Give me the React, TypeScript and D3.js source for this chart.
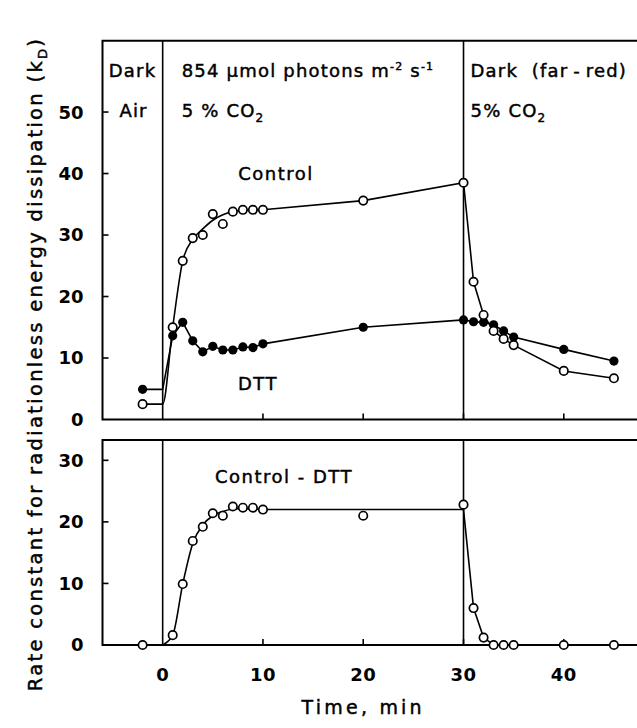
import React from "react";
import * as d3 from "d3";

// ---- data ----
const controlTime = [-2, 1, 2, 3, 4, 5, 6, 7, 8, 9, 10, 20, 30, 31, 32, 33, 34, 35, 40, 45];
const controlVals = [2.5, 15.0, 25.8, 29.5, 30.0, 33.4, 31.8, 33.8, 34.1, 34.1, 34.1, 35.6, 38.5, 22.4, 17.0, 14.4, 13.1, 12.1, 7.9, 6.7];

// smooth fitted rise (0-10 min), then straight segments
const controlRiseTime = [-2, 0, 1, 2, 3, 4, 5, 6, 7, 8, 9, 10];
const controlRiseVals = [2.5, 2.5, 15.0, 25.8, 29.3, 31.0, 32.4, 33.3, 33.8, 34.0, 34.1, 34.1];
const controlTailTime = [10, 20, 30, 31, 32, 33, 34, 35, 40, 45];
const controlTailVals = [34.1, 35.6, 38.5, 22.4, 17.0, 14.4, 13.1, 12.1, 7.9, 6.7];

const dttTime = [-2, 1, 2, 3, 4, 5, 6, 7, 8, 9, 10, 20, 30, 31, 32, 33, 34, 35, 40, 45];
const dttVals = [4.9, 13.6, 15.8, 12.8, 11.0, 11.9, 11.3, 11.3, 11.8, 11.7, 12.3, 15.0, 16.2, 15.9, 15.8, 15.4, 14.4, 13.4, 11.4, 9.5];
const dttLineTime = [-2, 0, 1, 2, 3, 4, 5, 6, 7, 8, 9, 10, 20, 30, 31, 32, 33, 34, 35, 40, 45];
const dttLineVals = [4.9, 4.9, 13.6, 15.8, 12.8, 11.0, 11.9, 11.3, 11.3, 11.8, 11.7, 12.3, 15.0, 16.2, 15.9, 15.8, 15.4, 14.4, 13.4, 11.4, 9.5];

const diffTime = [-2, 1, 2, 3, 4, 5, 6, 7, 8, 9, 10, 20, 30, 31, 32, 33, 34, 35, 40, 45];
const diffVals = [0, 1.6, 9.9, 16.9, 19.2, 21.4, 21.0, 22.5, 22.3, 22.3, 22.0, 21.0, 22.8, 6.0, 1.2, 0, 0, 0, 0, 0];
const diffRiseTime = [0, 1, 2, 3, 4, 5, 6, 7, 8, 9, 10];
const diffRiseVals = [0, 1.6, 9.9, 16.5, 19.5, 21.0, 21.7, 22.1, 22.2, 22.1, 22.0];
const diffTailTime = [10, 20, 30, 31, 32, 33, 48];
const diffTailVals = [22.0, 22.0, 22.0, 6.0, 1.2, 0, 0];

const xTickVals = [10, 20, 30, 40];
const xTickLabels = [0, 10, 20, 30, 40];
const topYTicks = [10, 20, 30, 40, 50];
const topYLabels = [0, 10, 20, 30, 40, 50];
const botYTicks = [10, 20, 30];
const botYLabels = [0, 10, 20, 30];
const phaseLines = [0, 30];

const W = 637;
const H = 728;
const FONT = "'DejaVu Sans', sans-serif";

export default function App() {
  const x = d3.scaleLinear().domain([-6, 47.5]).range([102.5, 639]);
  const yT = d3.scaleLinear().domain([0, 61.6]).range([419.5, 40.7]);
  const yB = d3.scaleLinear().domain([0, 33.3]).range([645, 440]);

  const pts = (ts: number[], vs: number[]) => ts.map((t, i) => [t, vs[i]] as [number, number]);

  const lineT = (curve: any) =>
    d3.line<[number, number]>().x((d) => x(d[0])).y((d) => yT(d[1])).curve(curve);
  const lineB = (curve: any) =>
    d3.line<[number, number]>().x((d) => x(d[0])).y((d) => yB(d[1])).curve(curve);

  const x0 = x.range()[0];
  const x1 = x.range()[1];
  const tick = 6;
  const lw = 1.6;
  const frameW = 2;
  const fs = 18;
  const ls = 1.2;
  const ts = { stroke: "#000", strokeWidth: 0.45 };

  return (
    <svg
      width={W}
      height={H}
      style={{ position: "absolute", left: 0, top: 0, background: "#fff" }}
      fontFamily={FONT}
    >
      <rect x={0} y={0} width={W} height={H} fill="#fff" />

      {/* ---- top panel frame ---- */}
      <path
        d={`M${x1},${yT.range()[1]} H${x0} V${yT.range()[0]} H${x1}`}
        fill="none"
        stroke="#000"
        strokeWidth={frameW}
      />
      {/* ---- bottom panel frame ---- */}
      <path
        d={`M${x1},${yB.range()[1]} H${x0} V${yB.range()[0]} H${x1}`}
        fill="none"
        stroke="#000"
        strokeWidth={frameW}
      />

      {/* phase lines */}
      {phaseLines.map((t) => (
        <g key={t}>
          <line x1={x(t)} x2={x(t)} y1={yT.range()[1]} y2={yT.range()[0]} stroke="#000" strokeWidth={lw} />
          <line x1={x(t)} x2={x(t)} y1={yB.range()[1]} y2={yB.range()[0]} stroke="#000" strokeWidth={lw} />
        </g>
      ))}

      {/* y ticks */}
      {topYTicks.map((v) => (
        <line key={"tt" + v} x1={x0} x2={x0 + tick} y1={yT(v)} y2={yT(v)} stroke="#000" strokeWidth={1.6} />
      ))}
      {botYTicks.map((v) => (
        <line key={"bt" + v} x1={x0} x2={x0 + tick} y1={yB(v)} y2={yB(v)} stroke="#000" strokeWidth={1.6} />
      ))}
      {/* x ticks */}
      {xTickVals.map((t) => (
        <g key={"xt" + t}>
          <line x1={x(t)} x2={x(t)} y1={yT(0)} y2={yT(0) - tick} stroke="#000" strokeWidth={1.6} />
          <line x1={x(t)} x2={x(t)} y1={yB(0)} y2={yB(0) - tick} stroke="#000" strokeWidth={1.6} />
        </g>
      ))}

      {/* y tick labels */}
      {topYLabels.map((v) => (
        <text key={"tl" + v} x={x0 - 19} y={yT(v)} dy="0.36em" textAnchor="end" fontSize={fs} fontWeight="bold">
          {v}
        </text>
      ))}
      {botYLabels.map((v) => (
        <text key={"bl" + v} x={x0 - 19} y={yB(v)} dy="0.36em" textAnchor="end" fontSize={fs} fontWeight="bold">
          {v}
        </text>
      ))}
      {/* x tick labels */}
      {xTickLabels.map((t) => (
        <text key={"xl" + t} x={x(t)} y={yB(0) + 36} textAnchor="middle" fontSize={fs} fontWeight="bold" letterSpacing={0.5}>
          {t}
        </text>
      ))}

      {/* axis titles */}
      <text x={x(20)} y={714} textAnchor="middle" fontSize={19} letterSpacing={3.2} {...ts}>
        Time, min
      </text>
      <text
        transform={`translate(42, 364) rotate(-90)`}
        textAnchor="middle"
        fontSize={19.5}
        letterSpacing={2.3}
        {...ts}
      >
        Rate constant for radiationless energy dissipation (k
        <tspan fontSize={13} dy={5}>D</tspan>
        <tspan dy={-5}>)</tspan>
      </text>

      {/* header text */}
      <g fontSize={fs} letterSpacing={ls} {...ts}>
        <text x={(x0 + x(0)) / 2} y={77} textAnchor="middle">Dark</text>
        <text x={(x0 + x(0)) / 2 + 1} y={117} textAnchor="middle">Air</text>
        <text x={x(0) + 19} y={77}>
          854 µmol photons m<tspan fontSize={11} dy={-7}>-2</tspan>
          <tspan dy={7}> s</tspan>
          <tspan fontSize={11} dy={-7}>-1</tspan>
        </text>
        <text x={x(0) + 19} y={117}>
          5 % CO<tspan fontSize={12} dy={5}>2</tspan>
        </text>
        <text x={x(30) + 7} y={77}>{"Dark\u00A0\u00A0(far\u2009-\u2009red)"}</text>
        <text x={x(30) + 7} y={117}>
          5% CO<tspan fontSize={12} dy={5}>2</tspan>
        </text>
      </g>

      {/* series labels */}
      <g fontSize={fs} letterSpacing={1.5} {...ts}>
        <text x={276} y={180} textAnchor="middle">Control</text>
        <text x={258} y={390} textAnchor="middle">DTT</text>
        <text x={284} y={483} textAnchor="middle">Control - DTT</text>
      </g>

      {/* ---- top panel data ---- */}
      <path d={lineT(d3.curveMonotoneX)(pts(controlRiseTime, controlRiseVals)) || ""} fill="none" stroke="#000" strokeWidth={lw} />
      <path d={lineT(d3.curveLinear)(pts(controlTailTime, controlTailVals)) || ""} fill="none" stroke="#000" strokeWidth={lw} />
      <path d={lineT(d3.curveLinear)(pts(dttLineTime, dttLineVals)) || ""} fill="none" stroke="#000" strokeWidth={lw} />
      {dttTime.map((t, i) => (
        <circle key={"d" + i} cx={x(t)} cy={yT(dttVals[i])} r={4.6} fill="#000" />
      ))}
      {controlTime.map((t, i) => (
        <circle key={"c" + i} cx={x(t)} cy={yT(controlVals[i])} r={4.2} fill="#fff" stroke="#000" strokeWidth={1.7} />
      ))}

      {/* ---- bottom panel data ---- */}
      <path d={lineB(d3.curveMonotoneX)(pts(diffRiseTime, diffRiseVals)) || ""} fill="none" stroke="#000" strokeWidth={lw} />
      <path d={lineB(d3.curveLinear)(pts(diffTailTime, diffTailVals)) || ""} fill="none" stroke="#000" strokeWidth={lw} />
      {diffTime.map((t, i) => (
        <circle key={"f" + i} cx={x(t)} cy={yB(diffVals[i])} r={4.2} fill="#fff" stroke="#000" strokeWidth={1.7} />
      ))}
    </svg>
  );
}
